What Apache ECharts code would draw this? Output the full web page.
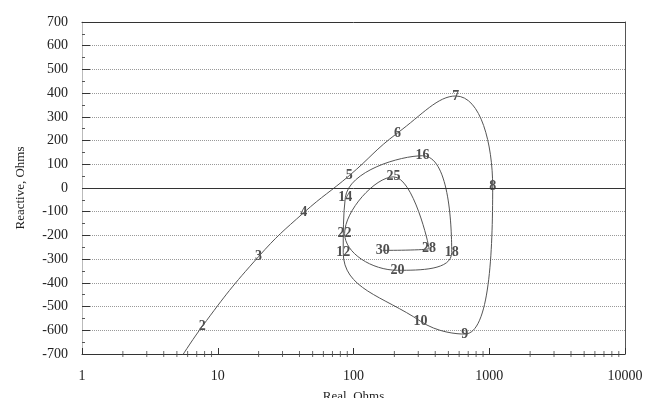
<!DOCTYPE html>
<html>
<head>
<meta charset="utf-8">
<script src="https://cdn.jsdelivr.net/npm/echarts@6/dist/echarts.min.js"></script>
<style>
    html, body { margin: 0; padding: 0; background: #fff; }
    #container { width: 648px; height: 398px; }
</style>
</head>
<body>
<div id="container"></div>
<script>
// frequency labels along the impedance curve (first point runs off the bottom of the plot)
var freqLabels = ['', '2', '3', '4', '5', '6', '7', '8', '9', '10', '12', '14', '16', '18', '20', '22', '25', '28', '30'];
var realOhms = [4.3, 7.7, 20, 43, 93, 211, 566, 1060, 660, 312, 84, 87, 323, 529, 211, 86, 197, 360, 164];
var reactiveOhms = [-805, -583, -289, -104, 52, 232, 388, 5, -616, -562, -272, -41, 136, -272, -347, -192, 47, -255, -263];

// log minor tick positions on the real axis
var xMinorTicks = [2, 3, 4, 5, 6, 7, 8, 9,
    20, 30, 40, 50, 60, 70, 80, 90,
    200, 300, 400, 500, 600, 700, 800, 900,
    2000, 3000, 4000, 5000, 6000, 7000, 8000, 9000];

var font = '"Liberation Serif", "DejaVu Serif", serif';
var myChart = echarts.init(document.getElementById('container'));

var curve = realOhms.map(function (x, i) {
    return { value: [x, reactiveOhms[i]], name: freqLabels[i] };
});

var option = {
    backgroundColor: '#fff',
    animation: false,
    grid: { left: 82, right: 23, top: 22, bottom: 44, outerBoundsMode: 'none', containLabel: false },
    xAxis: [{
        type: 'log',
        logBase: 10,
        min: 1,
        max: 10000,
        name: 'Real, Ohms',
        nameLocation: 'middle',
        nameGap: 36,
        nameTextStyle: { fontFamily: font, fontSize: 13, color: '#222' },
        axisLine: { onZero: false, lineStyle: { color: '#333', width: 1 } },
        axisTick: { inside: true, length: 6, lineStyle: { color: '#333' } },
        axisLabel: {
            fontFamily: font, fontSize: 14, color: '#222', margin: 15,
            formatter: function (v) { return String(Math.round(v)); }
        },
        splitLine: { show: false }
    }, {
        type: 'log',
        logBase: 10,
        min: 1,
        max: 10000,
        position: 'top',
        axisLine: { show: true, onZero: false, lineStyle: { color: '#333', width: 1 } },
        axisTick: { show: false },
        axisLabel: { show: false },
        splitLine: { show: false }
    }],
    yAxis: [{
        type: 'value',
        min: -700,
        max: 700,
        interval: 100,
        name: 'Reactive, Ohms',
        nameLocation: 'middle',
        nameGap: 55,
        nameTextStyle: { fontFamily: font, fontSize: 13, color: '#222' },
        axisLine: { show: true, onZero: false, lineStyle: { color: '#bbb' } },
        axisTick: { inside: true, length: 8, lineStyle: { color: '#333' } },
        minorTick: { show: true, splitNumber: 2, length: 3, lineStyle: { color: '#555' } },
        axisLabel: { fontFamily: font, fontSize: 14, color: '#222', margin: 14 },
        splitLine: { show: true, lineStyle: { color: '#999', type: 'dotted', width: 1 } }
    }, {
        type: 'value',
        min: -700,
        max: 700,
        position: 'right',
        axisLine: { show: true, onZero: false, lineStyle: { color: '#555' } },
        axisTick: { show: false },
        axisLabel: { show: false },
        splitLine: { show: false }
    }],
    series: [{
        type: 'line',
        data: curve,
        smooth: 0.45,
        showSymbol: false,
        symbol: 'none',
        clip: true,
        lineStyle: { color: '#555', width: 1 },
        markLine: {
            silent: true,
            symbol: 'none',
            label: { show: false },
            lineStyle: { color: '#333', type: 'solid', width: 1 },
            data: [{ yAxis: 0 }]
        }
    }, {
        // frequency labels sit on the curve points
        type: 'scatter',
        silent: true,
        data: curve.slice(1),
        symbolSize: 1,
        itemStyle: { color: 'rgba(0,0,0,0)' },
        label: {
            show: true,
            position: 'inside',
            formatter: function (p) { return p.name; },
            fontFamily: font,
            fontSize: 14,
            fontWeight: 'bold',
            color: '#222'
        }
    }, {
        type: 'scatter',
        silent: true,
        clip: false,
        symbol: 'rect',
        symbolSize: [1, 6],
        itemStyle: { color: '#444' },
        data: xMinorTicks.map(function (v) { return [v, -700]; })
    }]
};

myChart.setOption(option);
</script>
</body>
</html>
